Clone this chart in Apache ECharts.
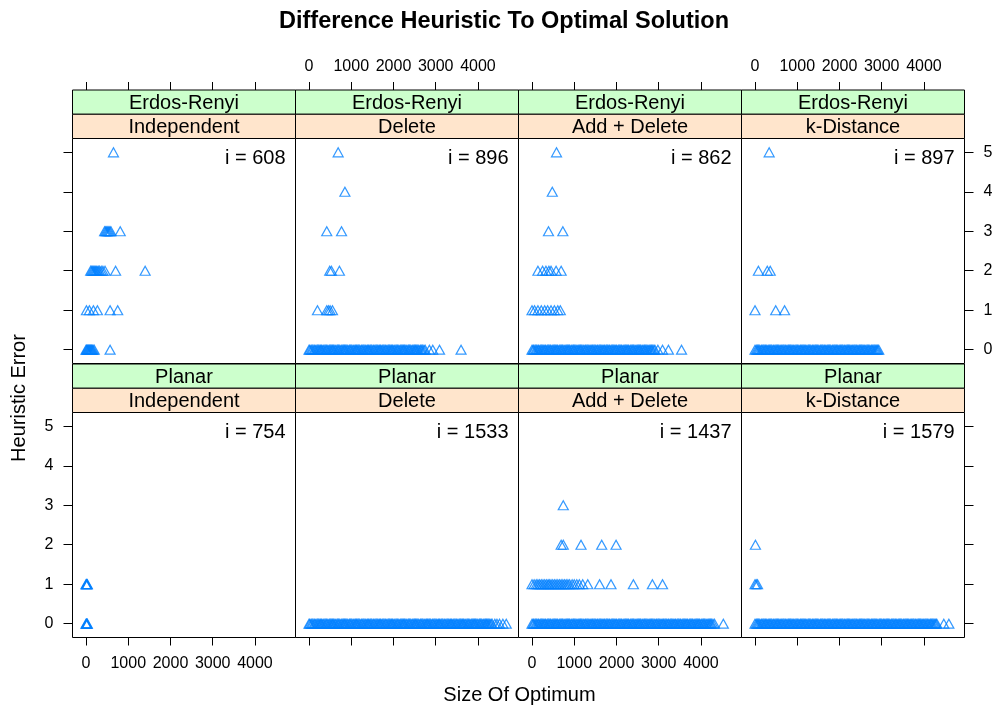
<!DOCTYPE html>
<html><head><meta charset="utf-8">
<script src="https://cdn.jsdelivr.net/npm/echarts@6/dist/echarts.min.js"></script>
<style>html,body{margin:0;padding:0;background:#fff}#c{width:999px;height:711px}</style>
</head><body><div id="c"></div><script>
// ---------- data ----------
const networks = ['Erdos-Renyi', 'Planar'];
const methods = ['Independent', 'Delete', 'Add + Delete', 'k-Distance'];
const iCounts = [[608, 896, 862, 897], [754, 1533, 1437, 1579]];
const xTicks = [0, 1000, 2000, 3000, 4000];
const yTicks = [0, 1, 2, 3, 4, 5];

// each entry: [heuristic error, [sizes of optimum]]
const erIndependent = [
  [0, [0, 15, 30, 45, 60, 75, 90, 105, 120, 135, 150, 170, 195, 570]],
  [1, [10, 80, 175, 270, 570, 750]],
  [2, [110, 135, 160, 185, 210, 235, 260, 290, 320, 360, 400, 450, 700, 1400]],
  [3, [440, 465, 490, 515, 540, 565, 590, 810]],
  [5, [650]]
];
const erDelete = [
  [0, [0, 22, 53, 80, 115, 139, 168, 201, 227, 257,
       280, 302, 333, 360, 395, 419, 448, 481, 507, 537,
       560, 582, 613, 640, 675, 699, 728, 761, 787, 817,
       840, 862, 893, 920, 955, 979, 1008, 1041, 1067, 1097,
       1120, 1142, 1173, 1200, 1235, 1259, 1288, 1321, 1347, 1377,
       1400, 1422, 1453, 1480, 1515, 1539, 1568, 1601, 1627, 1657,
       1680, 1702, 1733, 1760, 1795, 1819, 1848, 1881, 1907, 1937,
       1960, 1982, 2013, 2040, 2075, 2099, 2128, 2161, 2187, 2217,
       2240, 2262, 2293, 2320, 2355, 2379, 2408, 2441, 2467, 2497,
       2520, 2542, 2573, 2600, 2635, 2659, 2688, 2721, 2750,
       2850, 2930, 3090, 3600]],
  [1, [200, 420, 460, 500, 555]],
  [2, [490, 530, 720]],
  [3, [420, 770]],
  [4, [850]],
  [5, [690]]
];
const erAddDelete = [
  [0, [0, 27, 49, 84, 110, 141, 163, 196, 224, 253,
       280, 307, 329, 364, 390, 421, 443, 476, 504, 533,
       560, 587, 609, 644, 670, 701, 723, 756, 784, 813,
       840, 867, 889, 924, 950, 981, 1003, 1036, 1064, 1093,
       1120, 1147, 1169, 1204, 1230, 1261, 1283, 1316, 1344, 1373,
       1400, 1427, 1449, 1484, 1510, 1541, 1563, 1596, 1624, 1653,
       1680, 1707, 1729, 1764, 1790, 1821, 1843, 1876, 1904, 1933,
       1960, 1987, 2009, 2044, 2070, 2101, 2123, 2156, 2184, 2213,
       2240, 2267, 2289, 2324, 2350, 2381, 2403, 2436, 2464, 2493,
       2520, 2547, 2569, 2604, 2630, 2661, 2683, 2716, 2744, 2773,
       2800, 2827, 2849, 2884, 2910,
       2980, 3090, 3230, 3540]],
  [1, [0, 60, 140, 220, 300, 370, 450, 530, 610, 670]],
  [2, [140, 250, 330, 400, 450, 570, 690]],
  [3, [390, 730]],
  [4, [480]],
  [5, [580]]
];
const erKDistance = [
  [0, [0, 31, 58, 83, 112, 146, 170, 199, 231, 254,
       280, 311, 338, 363, 392, 426, 450, 479, 511, 534,
       560, 591, 618, 643, 672, 706, 730, 759, 791, 814,
       840, 871, 898, 923, 952, 986, 1010, 1039, 1071, 1094,
       1120, 1151, 1178, 1203, 1232, 1266, 1290, 1319, 1351, 1374,
       1400, 1431, 1458, 1483, 1512, 1546, 1570, 1599, 1631, 1654,
       1680, 1711, 1738, 1763, 1792, 1826, 1850, 1879, 1911, 1934,
       1960, 1991, 2018, 2043, 2072, 2106, 2130, 2159, 2191, 2214,
       2240, 2271, 2298, 2323, 2352, 2386, 2410, 2439, 2471, 2494,
       2520, 2551, 2578, 2603, 2632, 2666, 2690, 2719, 2751, 2774,
       2800, 2831, 2858, 2883, 2905, 2930]],
  [1, [0, 490, 700]],
  [2, [80, 290, 360]],
  [5, [335]]
];
const plIndependent = [
  [0, [0, 8, 16, 24, 32]],
  [1, [0, 8, 16, 24, 32]]
];
const plDelete = [
  [0, [0, 22, 53, 80, 115, 139, 168, 201, 227, 257,
       280, 302, 333, 360, 395, 419, 448, 481, 507, 537,
       560, 582, 613, 640, 675, 699, 728, 761, 787, 817,
       840, 862, 893, 920, 955, 979, 1008, 1041, 1067, 1097,
       1120, 1142, 1173, 1200, 1235, 1259, 1288, 1321, 1347, 1377,
       1400, 1422, 1453, 1480, 1515, 1539, 1568, 1601, 1627, 1657,
       1680, 1702, 1733, 1760, 1795, 1819, 1848, 1881, 1907, 1937,
       1960, 1982, 2013, 2040, 2075, 2099, 2128, 2161, 2187, 2217,
       2240, 2262, 2293, 2320, 2355, 2379, 2408, 2441, 2467, 2497,
       2520, 2542, 2573, 2600, 2635, 2659, 2688, 2721, 2747, 2777,
       2800, 2822, 2853, 2880, 2915, 2939, 2968, 3001, 3027, 3057,
       3080, 3102, 3133, 3160, 3195, 3219, 3248, 3281, 3307, 3337,
       3360, 3382, 3413, 3440, 3475, 3499, 3528, 3561, 3587, 3617,
       3640, 3662, 3693, 3720, 3755, 3779, 3808, 3841, 3867, 3897,
       3920, 3942, 3973, 4000, 4035, 4059, 4088, 4121, 4147, 4177,
       4200, 4222, 4253, 4280, 4310, 4335,
       4400, 4450, 4510, 4590, 4670]]
];
const plAddDelete = [
  [0, [0, 27, 49, 84, 110, 141, 163, 196, 224, 253,
       280, 307, 329, 364, 390, 421, 443, 476, 504, 533,
       560, 587, 609, 644, 670, 701, 723, 756, 784, 813,
       840, 867, 889, 924, 950, 981, 1003, 1036, 1064, 1093,
       1120, 1147, 1169, 1204, 1230, 1261, 1283, 1316, 1344, 1373,
       1400, 1427, 1449, 1484, 1510, 1541, 1563, 1596, 1624, 1653,
       1680, 1707, 1729, 1764, 1790, 1821, 1843, 1876, 1904, 1933,
       1960, 1987, 2009, 2044, 2070, 2101, 2123, 2156, 2184, 2213,
       2240, 2267, 2289, 2324, 2350, 2381, 2403, 2436, 2464, 2493,
       2520, 2547, 2569, 2604, 2630, 2661, 2683, 2716, 2744, 2773,
       2800, 2827, 2849, 2884, 2910, 2941, 2963, 2996, 3024, 3053,
       3080, 3107, 3129, 3164, 3190, 3221, 3243, 3276, 3304, 3333,
       3360, 3387, 3409, 3444, 3470, 3501, 3523, 3556, 3584, 3613,
       3640, 3667, 3689, 3724, 3750, 3781, 3803, 3836, 3864, 3893,
       3920, 3947, 3969, 4004, 4030, 4061, 4083, 4116, 4144, 4173,
       4200, 4227, 4249, 4284, 4320,
       4530]],
  [1, [0, 50, 100, 140, 180, 220, 260, 300, 340, 380, 410, 450, 490, 530, 570, 610, 650, 690, 730, 770, 810, 850, 890, 950, 1000, 1060, 1120, 1200, 1320, 1600, 1870, 2400, 2850, 3090]],
  [2, [690, 740, 1160, 1650, 1990]],
  [3, [740]]
];
const plKDistance = [
  [0, [0, 31, 58, 83, 112, 146, 170, 199, 231, 254,
       280, 311, 338, 363, 392, 426, 450, 479, 511, 534,
       560, 591, 618, 643, 672, 706, 730, 759, 791, 814,
       840, 871, 898, 923, 952, 986, 1010, 1039, 1071, 1094,
       1120, 1151, 1178, 1203, 1232, 1266, 1290, 1319, 1351, 1374,
       1400, 1431, 1458, 1483, 1512, 1546, 1570, 1599, 1631, 1654,
       1680, 1711, 1738, 1763, 1792, 1826, 1850, 1879, 1911, 1934,
       1960, 1991, 2018, 2043, 2072, 2106, 2130, 2159, 2191, 2214,
       2240, 2271, 2298, 2323, 2352, 2386, 2410, 2439, 2471, 2494,
       2520, 2551, 2578, 2603, 2632, 2666, 2690, 2719, 2751, 2774,
       2800, 2831, 2858, 2883, 2912, 2946, 2970, 2999, 3031, 3054,
       3080, 3111, 3138, 3163, 3192, 3226, 3250, 3279, 3311, 3334,
       3360, 3391, 3418, 3443, 3472, 3506, 3530, 3559, 3591, 3614,
       3640, 3671, 3698, 3723, 3752, 3786, 3810, 3839, 3871, 3894,
       3920, 3951, 3978, 4003, 4032, 4066, 4090, 4119, 4151, 4174,
       4200, 4231, 4258, 4283, 4305,
       4470, 4590]],
  [1, [0, 30, 60]],
  [2, [10]]
];
const panels = [
  [erIndependent, erDelete, erAddDelete, erKDistance],
  [plIndependent, plDelete, plAddDelete, plKDistance]
];

// ---------- layout ----------
const FONT = "'Liberation Sans', Arial, Helvetica, sans-serif";
const colL = [72.5, 295.5, 518.5, 741.5, 964.5];
const plotTop = [138.5, 412.5];
const plotH = 225;
const stripH = 24.25;
const xMin = -320, xMax = 4960, yMin = -0.35, yMax = 5.35;
const blue = '#0080ff';
const plain = function (v) { return String(v); };

const grids = [], xAxes = [], yAxes = [], series = [], graphics = [];
for (let r = 0; r < 2; r++) {
  for (let c = 0; c < 4; c++) {
    const gi = r * 4 + c;
    const left = colL[c], width = colL[c + 1] - colL[c];
    grids.push({left: left, top: plotTop[r], width: width, height: plotH,
      show: true, borderColor: '#000', borderWidth: 1, backgroundColor: '#fff'});
    const xLabels = (r === 0) ? (c % 2 === 1) : (c % 2 === 0);
    xAxes.push({
      type: 'value', gridIndex: gi, min: xMin, max: xMax,
      position: r === 0 ? 'top' : 'bottom', offset: r === 0 ? 2 * stripH : 0,
      axisLine: {show: false, onZero: false}, splitLine: {show: false},
      axisTick: {show: true, inside: false, length: 8, customValues: xTicks, lineStyle: {color: '#000', width: 1}},
      axisLabel: {show: xLabels, customValues: xTicks, formatter: plain, fontSize: 16, fontFamily: FONT, color: '#000', margin: r === 0 ? 15 : 18}
    });
    const hasY = (c === 0 || c === 3);
    const yLabels = (c === 0 && r === 1) || (c === 3 && r === 0);
    yAxes.push({
      type: 'value', gridIndex: gi, min: yMin, max: yMax,
      position: c === 3 ? 'right' : 'left',
      axisLine: {show: false, onZero: false}, splitLine: {show: false},
      axisTick: {show: hasY, inside: false, length: 9, customValues: yTicks, lineStyle: {color: '#000', width: 1}},
      axisLabel: {show: yLabels, customValues: yTicks, formatter: plain, fontSize: 16, fontFamily: FONT, color: '#000', margin: 19}
    });
    const data = [];
    panels[r][c].forEach(function (grp) {
      grp[1].forEach(function (x) { data.push([x, grp[0]]); });
    });
    series.push({
      type: 'scatter', xAxisIndex: gi, yAxisIndex: gi, data: data,
      symbol: 'triangle', symbolSize: [10, 9],
      itemStyle: {color: 'rgba(0,0,0,0)', borderColor: blue, borderWidth: 1.2},
      emphasis: {disabled: true}, silent: true
    });
    // strips
    const gTop = plotTop[r] - 2 * stripH;
    graphics.push({type: 'rect', shape: {x: left, y: gTop, width: width, height: stripH},
      style: {fill: '#ccffcc', stroke: '#000', lineWidth: 1}, z: 10});
    graphics.push({type: 'rect', shape: {x: left, y: gTop + stripH, width: width, height: stripH},
      style: {fill: '#ffe5cc', stroke: '#000', lineWidth: 1}, z: 10});
    graphics.push({type: 'text', x: left + width / 2, y: gTop + stripH / 2 + 1, z: 11,
      style: {text: networks[r], font: '20px ' + FONT, fill: '#000', textAlign: 'center', textVerticalAlign: 'middle'}});
    graphics.push({type: 'text', x: left + width / 2, y: gTop + stripH * 1.5 + 1, z: 11,
      style: {text: methods[c], font: '20px ' + FONT, fill: '#000', textAlign: 'center', textVerticalAlign: 'middle'}});
    graphics.push({type: 'text', x: left + width - 10, y: plotTop[r] + 20, z: 11,
      style: {text: 'i = ' + iCounts[r][c], font: '20px ' + FONT, fill: '#000', textAlign: 'right', textVerticalAlign: 'middle'}});
  }
}
graphics.push({type: 'text', x: 504, y: 22, z: 11,
  style: {text: 'Difference Heuristic To Optimal Solution', font: 'bold 23.5px ' + FONT, fill: '#000', textAlign: 'center', textVerticalAlign: 'middle'}});
graphics.push({type: 'text', x: 19, y: 398, rotation: Math.PI / 2, z: 11,
  style: {text: 'Heuristic Error', font: '20px ' + FONT, fill: '#000', textAlign: 'center', textVerticalAlign: 'middle'}});
graphics.push({type: 'text', x: 519.5, y: 695, z: 11,
  style: {text: 'Size Of Optimum', font: '20px ' + FONT, fill: '#000', textAlign: 'center', textVerticalAlign: 'middle'}});

const chart = echarts.init(document.getElementById('c'), null, {renderer: 'canvas'});
chart.setOption({
  animation: false,
  backgroundColor: '#fff',
  grid: grids, xAxis: xAxes, yAxis: yAxes, series: series,
  graphic: graphics
});
</script></body></html>
